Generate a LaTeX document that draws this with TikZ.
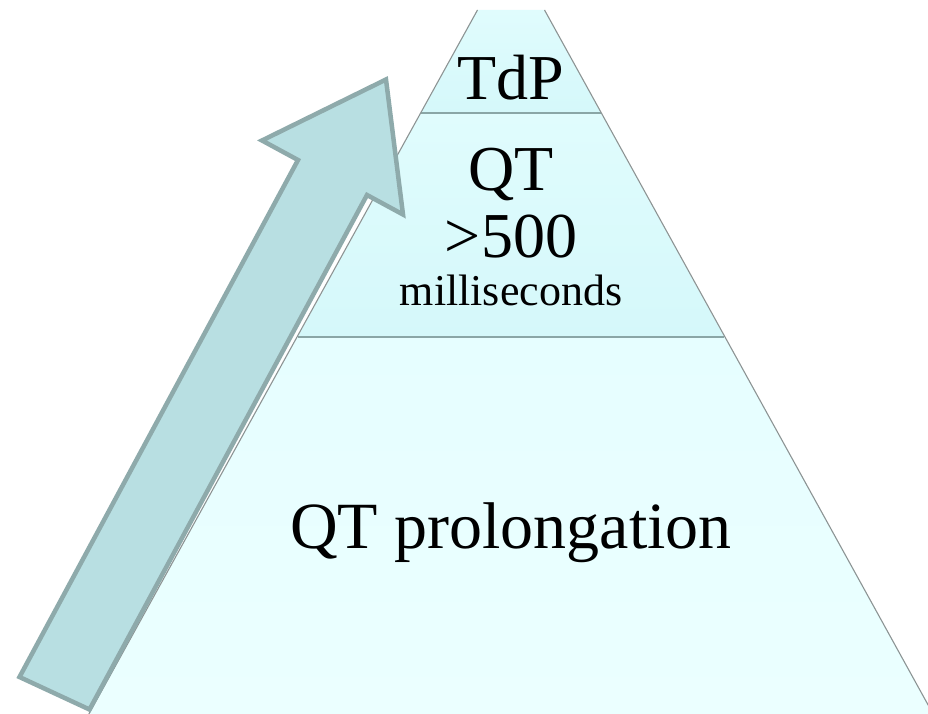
\documentclass[tikz,border=0pt]{standalone}
\usepackage{fontspec}
\setmainfont{Liberation Serif}
\definecolor{toplayer}{HTML}{E0FCFD}
\definecolor{toplayerb}{HTML}{D5F8FA}
\definecolor{botlayer}{HTML}{E6FEFF}
\definecolor{botlayerb}{HTML}{EBFFFF}
\definecolor{divline}{HTML}{8AA6A6}
\definecolor{edgeline}{HTML}{8C9494}
\definecolor{arrowfill}{HTML}{B8DFE2}
\definecolor{arrowline}{HTML}{8EAAAB}
\tikzset{
  lbl/.style={anchor=base, inner sep=0pt, text=black},
  divider/.style={draw=divline, line width=1.8pt},
  edge/.style={draw=edgeline, line width=1.1pt},
  blockarrow/.style={fill=arrowfill, draw=arrowline, line width=4.5pt, line join=miter}
}
\begin{document}
\begin{tikzpicture}[x=1pt,y=-1pt]
\useasboundingbox (0,0) rectangle (928,714);
\fill[white] (0,0) rectangle (928,714);
% pyramid geometry: half width = 33.5 + 0.552*(y-10), centre x = 511
\coordinate (apexL) at (477.5,10);
\coordinate (apexR) at (544.5,10);
\coordinate (d1L) at (421.3,113);
\coordinate (d1R) at (600.7,113);
\coordinate (d2L) at (297.6,337);
\coordinate (d2R) at (724.4,337);
\coordinate (bL) at (88.9,714);
\coordinate (bR) at (933.1,714);
\begin{scope}
\clip (0,0) rectangle (928,714);
\shade[top color=botlayer, bottom color=botlayerb] (d2L) -- (d2R) -- (bR) -- (bL) -- cycle;
\shade[top color=toplayer, bottom color=toplayerb] (d1L) -- (d1R) -- (d2R) -- (d2L) -- cycle;
\shade[top color=toplayer, bottom color=toplayerb] (apexL) -- (apexR) -- (d1R) -- (d1L) -- cycle;
\draw[divider] (d1L) -- (d1R);
\draw[divider] (d2L) -- (d2R);
\draw[edge] (apexL) -- (bL);
\draw[edge] (apexR) -- (bR);
\end{scope}
% labels
\node[lbl, font=\fontsize{64}{64}\selectfont] (tdp) at (511,100) {TdP};
\node[lbl, font=\fontsize{64}{64}\selectfont] (qt) at (511,190) {QT};
\node[lbl, font=\fontsize{64}{64}\selectfont] (gt) at (511,257) {>500};
\node[lbl, font=\fontsize{44}{44}\selectfont] (ms) at (511,305) {milliseconds};
\node[lbl, font=\fontsize{66}{66}\selectfont] (qtp) at (511,548) {QT prolongation};
% block arrow
\draw[blockarrow] (19.5,677) -- (298,160) -- (262,140.5) -- (386,79.5) -- (403,214.5) -- (367,195) -- (89.5,709.5) -- cycle;
\end{tikzpicture}
\end{document}
